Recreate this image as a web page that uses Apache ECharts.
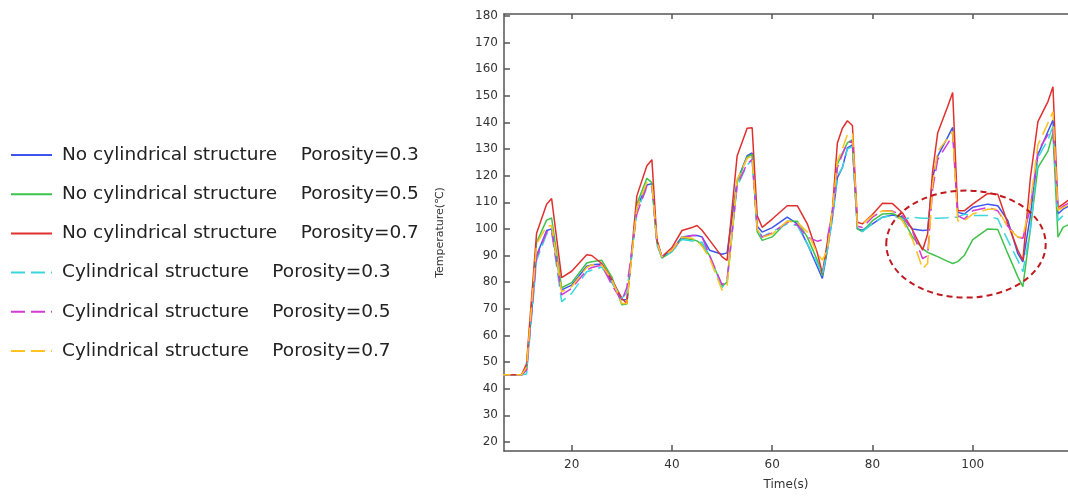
<!DOCTYPE html>
<html><head><meta charset="utf-8">
<script src="https://cdn.jsdelivr.net/npm/echarts@6/dist/echarts.min.js"></script>
<style>html,body{margin:0;padding:0;background:#fff}#c{width:1068px;height:496px}</style>
</head><body><div id="c"></div>
<script>
// time points (s)
const times = [5,10,11,13,15,16,18,20,23,24,26,28,30,31,
  33,35,36,37,38,40,42,44,45,46,47.5,50,51,
  53,55,56,57,58,60,63,65,67,69,70,71,72,
  73,74,75,76,77,78,80,82,84,86,88,90,91,
  92,93,95,96,97,98.3,100,103,105,107,109,110,111.5,
  113,115,116,117,118,120];

const noCyl03 = [45.2,45.2,47,90,99.4,100,77.1,78.9,86,86.5,86.8,80,73.4,73.5,
  108,116.5,117,95,89.5,92,97,97.5,97.5,97,92,90.5,91,
  118,127.5,128.5,101,98.8,100.5,104.4,101.9,94.4,85.8,81.4,92,104,
  119.2,123,130.4,131.5,100,99.5,101.9,104.4,105.2,104.5,100,99.4,99.6,
  119.2,127.3,134.5,138.1,106.2,105.6,108.1,109.3,108.7,103.1,90.7,87.6,105,
  127.9,136.6,140.9,105.6,107.4,109.5];
const noCyl05 = [45.2,45.2,48,95,103.3,104.1,77.9,79.8,87.2,87.7,88.2,82,71.5,71.8,
  109.3,119,117.4,95,89,91.5,96.5,96,95.5,94,90,78.5,80,
  117.5,127,128,99,95.7,97,102.9,102.9,96.9,88.2,82.5,93,106,
  124.2,128.5,132.3,133.5,100,99,103.1,105.6,105.8,104,96.9,92.6,91.2,
  90.4,89.6,87.8,87,87.7,90,96,100,99.8,90.7,82,78.3,100,
  123,129.2,136,96.9,100.6,102.5];
const noCyl07 = [45.2,45.2,49.3,98.4,109.3,111.4,81.7,84.1,90.3,90,87,81,74,72,
  112.4,123.7,126,96,89.5,93,99.4,100.5,101.3,99.5,95.8,89.5,88.2,
  127.4,137.8,138,105,100.6,103.7,108.7,108.7,101.9,91,83.3,95,107,
  132.3,137.8,140.6,138.8,102.5,101.9,105.4,109.6,109.5,106,99.5,92,98.1,
  121.7,136,146,151.2,106.8,106.8,109.3,113.3,113,101.9,92,88.2,119.2,
  140.3,147.8,153.4,108,109.3,112];
const cyl03 = [45.2,45.2,45.5,88.2,98.1,99,72.7,75.8,83.9,84.5,85.7,80,74,76,
  106.8,115.5,116,94,89,91.5,96,95.5,95,95,90,78,80,
  116,124,126,100,97,99,101.9,101.3,94.4,87,83,92,104,
  119.9,123,130,131,99.5,99,101.9,104.4,105,103.5,104.4,104,104,
  104,104,104.2,104.4,104.4,105.5,105,105,103.7,95.7,88.2,83.9,100,
  126.7,133.5,138.5,103.1,105,107];
const cyl05 = [45.2,45.2,47,89.5,98.8,99.4,75.2,77.7,84.5,85.5,86.4,79,73,78,
  105.6,116.1,116.5,95,89.5,92,96.5,97.5,97.5,97,90,79,81,
  116.5,124.5,126,100,96.9,98.5,102.5,101.5,96.9,95.4,95.9,96.5,106,
  123,128,132.3,133,101,100.5,104.4,106.8,106.7,105,99,88.8,90,
  115,126,132,135.4,105,103.7,106.8,108.1,106.8,101,96.9,96.5,108,
  129.2,135.4,137.2,107,108.5,110.5];
const cyl07 = [45.2,45.2,48,94.4,100.9,101.3,76.4,78.3,85.5,86.5,86.4,81,72,72,
  108,117.4,117,95,89.5,92,97,96.5,95.5,93.5,89,77,78.5,
  118.5,126.5,127.5,100,96.8,98.1,102.9,102.5,98.8,90.7,88.3,92,107,
  125.4,130,135.4,136,101,101.9,105,106.8,106.5,103,96,85.1,87,
  117,129.2,134,136.6,103.1,103.1,105.6,107.4,107.4,100.6,96.9,97,110,
  131.6,139.7,144,107,108,110];

const seriesNames = [
  'No cylindrical structure    Porosity=0.3',
  'No cylindrical structure    Porosity=0.5',
  'No cylindrical structure    Porosity=0.7',
  'Cylindrical structure    Porosity=0.3',
  'Cylindrical structure    Porosity=0.5',
  'Cylindrical structure    Porosity=0.7'
];
const seriesValues = [noCyl03, noCyl05, noCyl07, cyl03, cyl05, cyl07];
const xTicks = [20,40,60,80,100];
const yTicks = [20,30,40,50,60,70,80,90,100,110,120,130,140,150,160,170,180];
// annotation ellipse (data units): center time, center temperature, half-width (s), half-height (°C)
const ellipseNote = [98.65, 94.3, 15.9, 20.1];

const colors = ['#3d55ee','#3fc24c','#e0302e','#3bd6dc','#d23ad6','#ffc21e'];
const dashed = [false,false,false,true,true,true];
const FONT = 'DejaVu Sans';

const chart = echarts.init(document.getElementById('c'), null, {renderer:'canvas'});
const axisCol = '#555';
chart.setOption({
  animation:false,
  backgroundColor:'#fff',
  textStyle:{fontFamily:FONT},
  grid:{left:504, right:0, top:14, bottom:40, containLabel:false},
  legend:{
    orient:'vertical', left:10, top:145, padding:0, itemWidth:41, itemHeight:12, itemGap:19.2,
    itemStyle:{opacity:0},
    textStyle:{fontFamily:FONT, fontSize:18.5, color:'#222', lineHeight:20, padding:[0,0,0,5]},
    data:seriesNames
  },
  xAxis:[{
    type:'value', min:6.5, max:119, position:'bottom',
    name:'Time(s)', nameLocation:'middle', nameGap:28,
    nameTextStyle:{fontFamily:FONT, fontSize:12, color:'#333'},
    axisLine:{show:true, onZero:false, lineStyle:{color:axisCol, width:1.5}},
    axisTick:{show:true, inside:true, length:6, customValues:xTicks, lineStyle:{color:axisCol, width:1.5}},
    axisLabel:{show:true, margin:8, customValues:xTicks, fontFamily:FONT, fontSize:12, color:'#333'},
    splitLine:{show:false}
  },{
    type:'value', min:6.5, max:119, position:'top',
    axisLine:{show:true, onZero:false, lineStyle:{color:axisCol, width:1.5}},
    axisTick:{show:true, inside:true, length:5, customValues:xTicks, lineStyle:{color:axisCol, width:1.5}},
    axisLabel:{show:false}, splitLine:{show:false}
  }],
  yAxis:{
    type:'value', min:16.6, max:180.7,
    name:'Temperature(℃)', nameLocation:'middle', nameGap:58, nameRotate:90,
    nameTextStyle:{fontFamily:FONT, fontSize:11, color:'#333'},
    axisLine:{show:true, onZero:false, lineStyle:{color:axisCol, width:1.5}},
    axisTick:{show:true, inside:true, length:6, customValues:yTicks, lineStyle:{color:axisCol, width:1.5}},
    axisLabel:{show:true, margin:6, customValues:yTicks, fontFamily:FONT, fontSize:12, color:'#333'},
    splitLine:{show:false}
  },
  series: seriesNames.map((n,i)=>({
    name:n, type:'line', xAxisIndex:0, showSymbol:false, symbol:'none',
    data: times.map((t,k)=>[t, seriesValues[i][k]]),
    lineStyle:{color:colors[i], width:1.5, type: dashed[i] ? [14,6] : 'solid'},
    itemStyle:{color:colors[i]},
    emphasis:{disabled:true}, z: 2
  }))
});

function drawNote(){
  const c = chart.convertToPixel({gridIndex:0}, [ellipseNote[0], ellipseNote[1]]);
  const e = chart.convertToPixel({gridIndex:0}, [ellipseNote[0]+ellipseNote[2], ellipseNote[1]+ellipseNote[3]]);
  chart.setOption({graphic:[{
    type:'ellipse', z:100,
    shape:{cx:c[0], cy:c[1], rx:Math.abs(e[0]-c[0]), ry:Math.abs(c[1]-e[1])},
    style:{fill:null, stroke:'#c01a1f', lineWidth:2, lineDash:[6,4]}
  }]});
}
drawNote();
</script></body></html>
